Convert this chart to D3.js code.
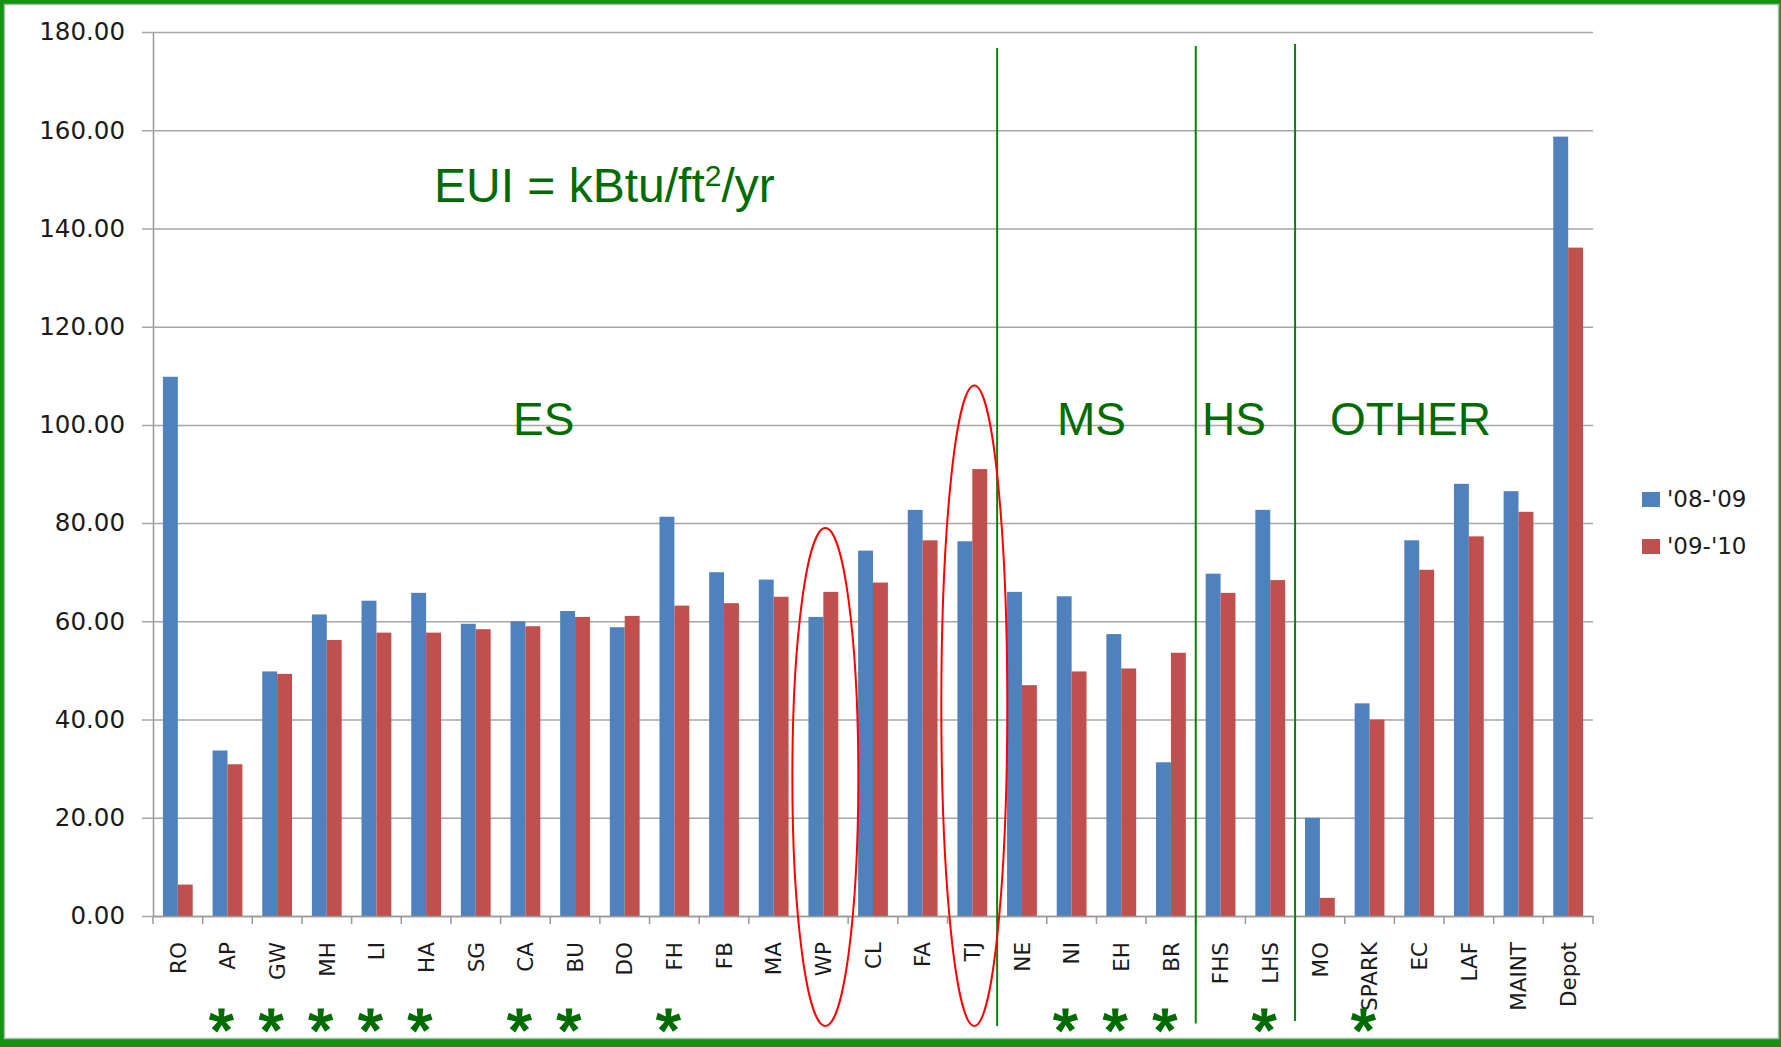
<!DOCTYPE html>
<html>
<head>
<meta charset="utf-8">
<script src="https://cdn.jsdelivr.net/npm/d3@7"></script>
<style>
  body { margin: 0; background: #fff; }
  svg { display: block; }
</style>
</head>
<body>
<svg id="chart"></svg>
<script>
var width = 1781,
  height = 1047;

// data
var schools = ['RO', 'AP', 'GW', 'MH', 'LI', 'HA', 'SG', 'CA', 'BU', 'DO', 'FH', 'FB', 'MA', 'WP',
  'CL', 'FA', 'TJ', 'NE', 'NI', 'EH', 'BR', 'FHS', 'LHS', 'MO', 'SPARK', 'EC', 'LAF', 'MAINT', 'Depot'];
var eui0809 = [109.8, 33.7, 49.8, 61.4, 64.2, 65.8, 59.5, 60.0, 62.1, 58.8, 81.3, 70.0, 68.5, 60.9,
  74.4, 82.7, 76.3, 66.0, 65.1, 57.4, 31.3, 69.7, 82.7, 20.0, 43.3, 76.5, 88.0, 86.5, 158.7];
var eui0910 = [6.4, 30.9, 49.3, 56.2, 57.7, 57.7, 58.4, 59.0, 60.9, 61.1, 63.2, 63.7, 65.0, 66.0,
  67.9, 76.5, 91.0, 47.0, 49.8, 50.4, 53.6, 65.8, 68.4, 3.7, 40.0, 70.5, 77.3, 82.3, 136.1];
var seriesNames = ["'08-'09", "'09-'10"];
var seriesColors = ['#4F81BD', '#C0504D'];
var yTicks = [0, 20, 40, 60, 80, 100, 120, 140, 160, 180];
var starred = ['AP', 'GW', 'MH', 'LI', 'HA', 'CA', 'BU', 'FH', 'NI', 'EH', 'BR', 'LHS', 'SPARK'];
var dividers = ['NE', 'FHS', 'MO'];       // a green line on the left of these
var circled = [['WP', 79], ['TJ', 108]];  // category, top of the ellipse (axis units)

var svg = d3.select('#chart')
  .attr('width', width)
  .attr('height', height);

// green frame
svg.append('rect')
  .attr('width', width)
  .attr('height', height)
  .attr('fill', '#129412');
svg.append('rect')
  .attr('x', 4.5)
  .attr('y', 4.5)
  .attr('width', width - 7)
  .attr('height', height - 13)
  .attr('fill', '#fff')
  .attr('stroke', '#b4b4b4')
  .attr('stroke-width', 1.5);

var x = d3.scaleBand()
  .domain(schools)
  .range([153, 1593]);

var xs = d3.scaleBand()
  .domain(seriesNames)
  .range([0.2 * x.bandwidth(), 0.8 * x.bandwidth()]);

var y = d3.scaleLinear()
  .domain([0, 180])
  .range([916, 32]);

// gridlines + y labels
var yAxis = svg.append('g')
  .attr('transform', 'translate(153,0)')
  .call(d3.axisLeft(y)
    .tickValues(yTicks)
    .tickSize(-1440)
    .tickSizeOuter(0)
    .tickPadding(28)
    .tickFormat(d3.format('.2f')));
yAxis.select('.domain').attr('stroke', '#999').attr('stroke-width', 1.5);
yAxis.selectAll('.tick line')
  .attr('x1', -11)
  .attr('stroke', '#a6a6a6')
  .attr('stroke-width', 1.5);
yAxis.selectAll('.tick text')
  .attr('font-family', 'DejaVu Sans')
  .attr('font-size', 24.5)
  .attr('fill', '#1a1a1a');

// bars
var bars = svg.append('g');
[eui0809, eui0910].forEach(function(values, s) {
  bars.selectAll('rect.s' + s)
    .data(values)
    .enter().append('rect')
    .attr('class', 's' + s)
    .attr('x', function(d, i) { return x(schools[i]) + xs(seriesNames[s]); })
    .attr('y', function(d) { return y(d); })
    .attr('width', xs.bandwidth())
    .attr('height', function(d) { return y(0) - y(d); })
    .attr('fill', seriesColors[s]);
});

// x axis
var xAxis = svg.append('g')
  .attr('transform', 'translate(0,' + y(0) + ')')
  .call(d3.axisBottom(x).tickSize(0).tickPadding(26));
xAxis.select('.domain').attr('stroke', '#999').attr('stroke-width', 1.5);
xAxis.selectAll('.tick text')
  .attr('font-family', 'DejaVu Sans')
  .attr('font-size', 21.5)
  .attr('fill', '#1a1a1a')
  .attr('text-anchor', 'end')
  .attr('transform', 'translate(0,26) rotate(-90)')
  .attr('x', 0)
  .attr('y', 0)
  .attr('dy', '0.36em');
xAxis.selectAll('line.sep')
  .data(schools.concat(['end']))
  .enter().append('line')
  .attr('class', 'sep')
  .attr('x1', function(d, i) { return x.range()[0] + i * x.step(); })
  .attr('x2', function(d, i) { return x.range()[0] + i * x.step(); })
  .attr('y1', 0)
  .attr('y2', 8)
  .attr('stroke', '#999')
  .attr('stroke-width', 1.5);

// legend
var legend = svg.append('g');
seriesNames.forEach(function(name, s) {
  legend.append('rect')
    .attr('x', 1642)
    .attr('y', 492 + s * 47)
    .attr('width', 18)
    .attr('height', 15)
    .attr('fill', seriesColors[s]);
  legend.append('text')
    .attr('x', 1667)
    .attr('y', 507 + s * 47)
    .attr('font-family', 'DejaVu Sans')
    .attr('font-size', 23)
    .attr('fill', '#1a1a1a')
    .text(name);
});

// annotations
var green = '#006b00';
svg.selectAll('line.divider')
  .data(dividers)
  .enter().append('line')
  .attr('class', 'divider')
  .attr('x1', function(d) { return x(d); })
  .attr('x2', function(d) { return x(d); })
  .attr('y1', function(d, i) { return 48 - i * 2; })
  .attr('y2', function(d, i) { return 1026 - i * 2.5; })
  .attr('stroke', '#0a800a')
  .attr('stroke-width', 2);

svg.selectAll('ellipse')
  .data(circled)
  .enter().append('ellipse')
  .attr('cx', function(d) { return x(d[0]) + x.bandwidth() / 2 + 2; })
  .attr('cy', function(d) { return (y(d[1]) + 1026) / 2; })
  .attr('rx', 33)
  .attr('ry', function(d) { return (1026 - y(d[1])) / 2; })
  .attr('fill', 'none')
  .attr('stroke', '#ff0000')
  .attr('stroke-width', 2);

var eui = svg.append('text')
  .attr('x', 434)
  .attr('y', 202)
  .attr('font-family', 'Liberation Sans')
  .attr('font-size', 48)
  .attr('fill', green);
eui.append('tspan').text('EUI = kBtu/ft');
eui.append('tspan').attr('font-size', 30).attr('dy', -16).text('2');
eui.append('tspan').attr('dy', 16).text('/yr');

var groups = [['ES', 513], ['MS', 1057], ['HS', 1202], ['OTHER', 1330]];
svg.selectAll('text.group')
  .data(groups)
  .enter().append('text')
  .attr('class', 'group')
  .attr('x', function(d) { return d[1]; })
  .attr('y', 435)
  .attr('font-family', 'Liberation Sans')
  .attr('font-size', 46)
  .attr('fill', green)
  .text(function(d) { return d[0]; });

// stars under the label row; the five-armed glyph is turned a fifth of a
// turn about its hub so it looks the same but its text box stays on the page
var starSize = 64,
  hubY = 1020;
svg.selectAll('text.star')
  .data(starred)
  .enter().append('text')
  .attr('class', 'star')
  .attr('x', function(d) { return x(d) + x.bandwidth() / 2 - 5; })
  .attr('y', hubY + 0.516 * starSize)
  .attr('transform', function(d) {
    return 'rotate(72,' + (x(d) + x.bandwidth() / 2 - 5) + ',' + hubY + ')';
  })
  .attr('text-anchor', 'middle')
  .attr('font-family', 'Liberation Sans')
  .attr('font-weight', 'bold')
  .attr('font-size', starSize)
  .attr('fill', green)
  .text('*');
</script>
</body>
</html>
